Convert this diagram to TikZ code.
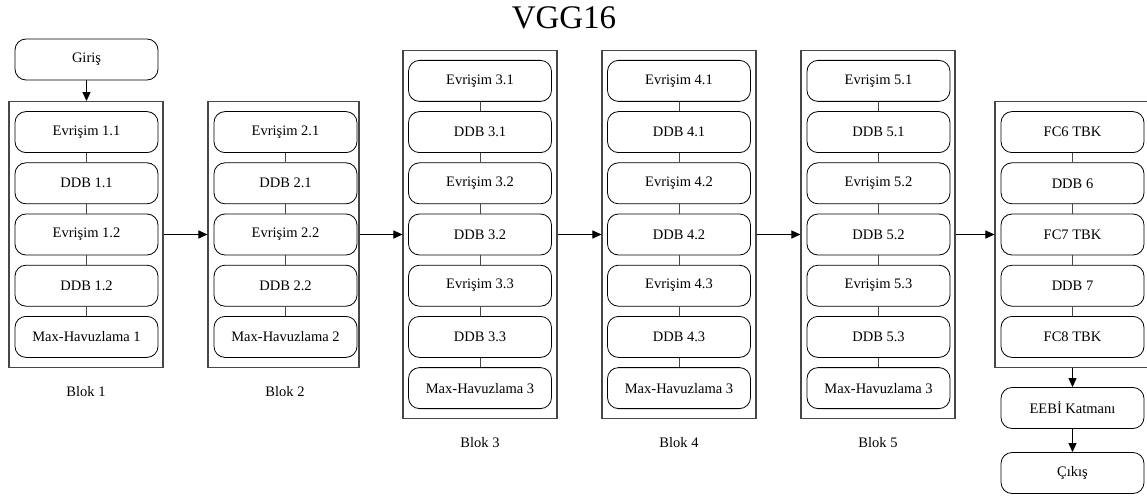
\documentclass[tikz,border=0pt]{standalone}
\usepackage{fontspec}
\setmainfont{Liberation Serif}
\usetikzlibrary{arrows.meta}
\tikzset{
  layer/.style={draw=black, line width=0.8pt, rounded corners=11pt, fill=white,
    minimum width=143pt, minimum height=41pt, inner sep=0pt,
    font=\fontsize{14.5}{16}\selectfont},
  blockframe/.style={draw=black!72, line width=1.1pt, inner sep=0pt},
  link/.style={draw=black!72, line width=0.8pt},
  flow/.style={draw=black, line width=1pt, -{Triangle[length=9pt,width=8pt]}},
  caption/.style={font=\fontsize{14.5}{16}\selectfont},
}
\begin{document}
\begin{tikzpicture}[x=1pt,y=-1pt]
\useasboundingbox (0,0) rectangle (1147,497);
\clip (0,0) rectangle (1147,497);

\node[font=\fontsize{33}{36}\selectfont] (title) at (564,18) {VGG16};

% input
\node[layer] (giris) at (86.5,59.5) {Giriş};

% block 1
\node[blockframe, minimum width=154pt, minimum height=265.8pt] (f1) at (86,234.5) {};
\foreach \t [count=\k] in {Evrişim 1.1, DDB 1.1, Evrişim 1.2, DDB 1.2, Max-Havuzlama 1}
  \node[layer] (b1-\k) at (86.5,{234.5+(\k-3)*51.2}) {\t};
\foreach \k in {1,...,4}{\pgfmathtruncatemacro\nxt{\k+1}
  \draw[link] (b1-\k.south) -- (b1-\nxt.north);}
\node[caption] (c1) at (86,392) {Blok 1};

% block 2
\node[blockframe, minimum width=151pt, minimum height=265.8pt] (f2) at (283.5,234.5) {};
\foreach \t [count=\k] in {Evrişim 2.1, DDB 2.1, Evrişim 2.2, DDB 2.2, Max-Havuzlama 2}
  \node[layer] (b2-\k) at (285.5,{234.5+(\k-3)*51.2}) {\t};
\foreach \k in {1,...,4}{\pgfmathtruncatemacro\nxt{\k+1}
  \draw[link] (b2-\k.south) -- (b2-\nxt.north);}
\node[caption] (c2) at (285,392) {Blok 2};

% block 3
\node[blockframe, minimum width=154pt, minimum height=368.2pt] (f3) at (480,234.5) {};
\foreach \t [count=\k] in {Evrişim 3.1, DDB 3.1, Evrişim 3.2, DDB 3.2, Evrişim 3.3, DDB 3.3, Max-Havuzlama 3}
  \node[layer] (b3-\k) at (480,{234.5+(\k-4)*51.2}) {\t};
\foreach \k in {1,...,6}{\pgfmathtruncatemacro\nxt{\k+1}
  \draw[link] (b3-\k.south) -- (b3-\nxt.north);}
\node[caption] (c3) at (480,443) {Blok 3};

% block 4
\node[blockframe, minimum width=154pt, minimum height=368.2pt] (f4) at (679,234.5) {};
\foreach \t [count=\k] in {Evrişim 4.1, DDB 4.1, Evrişim 4.2, DDB 4.2, Evrişim 4.3, DDB 4.3, Max-Havuzlama 3}
  \node[layer] (b4-\k) at (679,{234.5+(\k-4)*51.2}) {\t};
\foreach \k in {1,...,6}{\pgfmathtruncatemacro\nxt{\k+1}
  \draw[link] (b4-\k.south) -- (b4-\nxt.north);}
\node[caption] (c4) at (679,443) {Blok 4};

% block 5
\node[blockframe, minimum width=154pt, minimum height=368.2pt] (f5) at (878,234.5) {};
\foreach \t [count=\k] in {Evrişim 5.1, DDB 5.1, Evrişim 5.2, DDB 5.2, Evrişim 5.3, DDB 5.3, Max-Havuzlama 3}
  \node[layer] (b5-\k) at (878.5,{234.5+(\k-4)*51.2}) {\t};
\foreach \k in {1,...,6}{\pgfmathtruncatemacro\nxt{\k+1}
  \draw[link] (b5-\k.south) -- (b5-\nxt.north);}
\node[caption] (c5) at (878,443) {Blok 5};

% fully connected block
\node[blockframe, minimum width=156pt, minimum height=265.8pt] (f6) at (1073,234.5) {};
\foreach \t [count=\k] in {FC6 TBK, DDB 6, FC7 TBK, DDB 7, FC8 TBK}
  \node[layer] (b6-\k) at (1072.5,{234.5+(\k-3)*51.2}) {\t};
\foreach \k in {1,...,4}{\pgfmathtruncatemacro\nxt{\k+1}
  \draw[link] (b6-\k.south) -- (b6-\nxt.north);}

% output side
\node[layer] (eebi) at (1072.5,408) {EEBİ Katmanı};
\node[layer] (cikis) at (1072.5,473) {Çıkış};

% data flow
\draw[flow] (giris.south) -- (giris.south |- f1.north);
\draw[flow] (f1.east) -- (f2.west);
\draw[flow] (f2.east) -- (f3.west);
\draw[flow] (f3.east) -- (f4.west);
\draw[flow] (f4.east) -- (f5.west);
\draw[flow] (f5.east) -- (f6.west);
\draw[flow] (eebi.north |- f6.south) -- (eebi.north);
\draw[flow] (eebi.south) -- (cikis.north);
\end{tikzpicture}
\end{document}
